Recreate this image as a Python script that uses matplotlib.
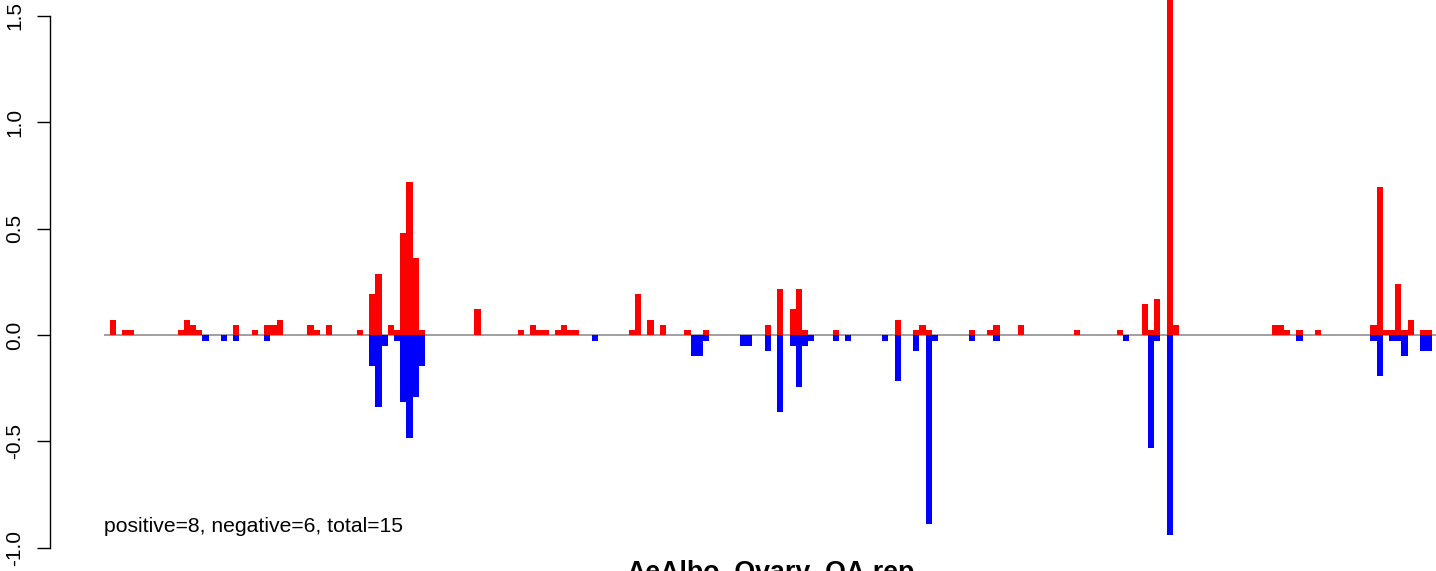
import numpy as np
import matplotlib.pyplot as plt

plt.rcParams['font.family'] = ['Liberation Sans', 'DejaVu Sans']

# bin index -> value
pos_bins = [1, 3, 4, 12, 13, 14, 15, 21, 24, 26, 27, 28, 33, 34, 36, 41, 43, 44, 46, 47,
            48, 49, 50, 51, 60, 67, 69, 70, 71, 73, 74, 75, 76, 85, 86, 88, 90, 94, 97,
            107, 109, 111, 112, 113, 118, 128, 131, 132, 133, 140, 143, 144, 148, 157,
            164, 168, 169, 170, 172, 173, 189, 190, 191, 193, 196, 205, 206, 207, 208,
            209, 210, 211, 213, 214]
pos_vals = [0.07, 0.024, 0.024, 0.024, 0.07, 0.047, 0.024, 0.047, 0.024, 0.047, 0.047, 0.07,
            0.047, 0.024, 0.047, 0.024, 0.193, 0.287, 0.047, 0.024,
            0.48, 0.72, 0.362, 0.024, 0.122, 0.024, 0.047, 0.024, 0.024, 0.024, 0.047, 0.024,
            0.024, 0.024, 0.193, 0.07, 0.047, 0.024, 0.024,
            0.047, 0.216, 0.122, 0.216, 0.024, 0.024, 0.07, 0.024, 0.047, 0.024, 0.024, 0.024,
            0.047, 0.047, 0.024,
            0.024, 0.146, 0.024, 0.17, 1.8, 0.047, 0.047, 0.047, 0.024, 0.024, 0.024, 0.047,
            0.694, 0.024, 0.024,
            0.238, 0.024, 0.07, 0.024, 0.024]

neg_bins = [16, 19, 21, 26, 43, 44, 45, 47, 48, 49, 50, 51, 79, 95, 96, 97, 103, 104, 107,
            109, 111, 112, 113, 114, 118, 120, 126, 128, 131, 133, 134, 140, 144, 165, 169,
            170, 172, 193, 205, 206, 208, 209, 210, 213, 214]
neg_vals = [-0.028, -0.028, -0.028, -0.028, -0.146, -0.338, -0.052, -0.028, -0.315, -0.485,
            -0.29, -0.146, -0.028, -0.1, -0.1, -0.028, -0.052, -0.052, -0.075,
            -0.362, -0.052, -0.244, -0.052, -0.028, -0.028, -0.028, -0.028, -0.216, -0.075,
            -0.888, -0.028, -0.028, -0.028, -0.028, -0.529,
            -0.028, -0.938, -0.028, -0.028, -0.194, -0.028, -0.028, -0.1, -0.077, -0.077]

n_bins = 216
yticks = [-1.0, -0.5, 0.0, 0.5, 1.0, 1.5]
summary = "positive=8, negative=6, total=15"
title = "AeAlbo_Ovary_OA.rep"

fig = plt.figure(figsize=(14.36, 5.71), dpi=100)
ax = fig.add_axes([50 / 1436, 0, 1386 / 1436, 1])

ax.hlines(0, 0, n_bins, color='#999999', lw=1.3, zorder=1)
ax.bar(pos_bins, pos_vals, width=1, align='edge', color='#ff0000', linewidth=0, zorder=2)
ax.bar(neg_bins, neg_vals, width=1, align='edge', color='#0000ff', linewidth=0, zorder=2)

ax.set_xlim(-8.66, 215.6)
ax.set_ylim(-1.109, 1.574)

for s in ['top', 'right', 'bottom']:
    ax.spines[s].set_visible(False)
ax.spines['left'].set_bounds(-1.0, 1.5)
ax.spines['left'].set_linewidth(1.0)
ax.set_xticks([])
ax.set_yticks(yticks)
ax.set_yticklabels(['%.1f' % t for t in yticks], rotation=90, va='center', fontsize=15)
ax.tick_params(axis='y', length=9.5, width=1.0, pad=9)

ax.text(0, -0.9, summary, fontsize=15.2, ha='left', va='center')
# title sits below the crop, only its top shows
fig.text(771 / 1436, -9 / 571, title, fontsize=19.3, fontweight='bold', ha='center', va='baseline')

fig.savefig('out.png', dpi=100)
